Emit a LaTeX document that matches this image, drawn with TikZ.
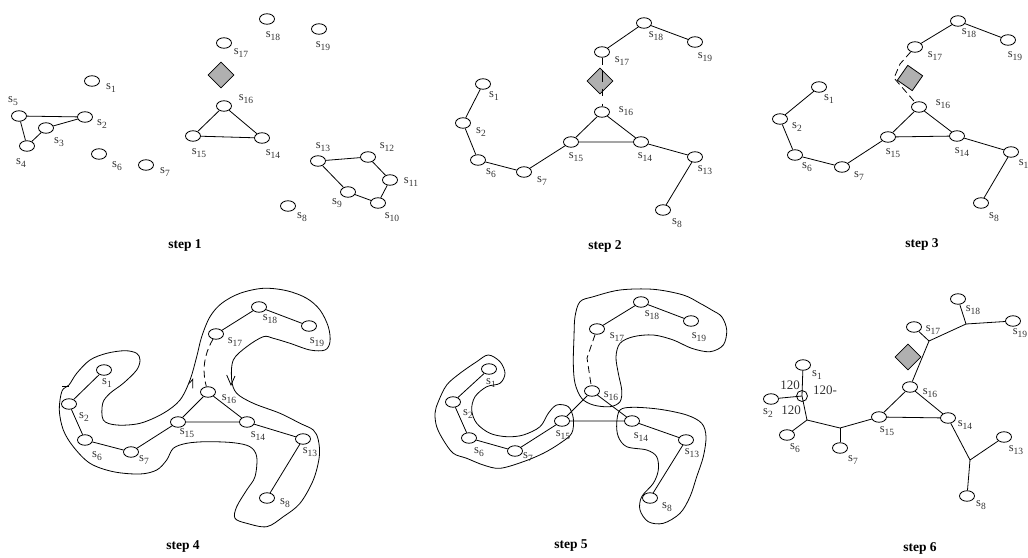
\documentclass[tikz,border=0pt]{standalone}
\usepackage{fontspec}
\setmainfont{Liberation Serif}
\usetikzlibrary{shapes.geometric}
\definecolor{diagray}{RGB}{176,176,176}
\tikzset{
 sn/.style={draw, ellipse, minimum width=15pt, minimum height=10.5pt, inner sep=0pt, line width=0.8pt},
 snsmall/.style={draw, ellipse, minimum width=11pt, minimum height=11pt, inner sep=0pt, line width=0.8pt},
 sl/.style={inner sep=0pt, font=\fontsize{12.5}{13}\selectfont, text=black!80},
 dia/.style={draw, diamond, fill=diagray, minimum width=26pt, minimum height=26pt, inner sep=0pt, line width=0.8pt},
 edge/.style={line width=0.8pt},
 dedge/.style={line width=0.8pt, dash pattern=on 7pt off 4pt},
 steplab/.style={font=\fontsize{13.5}{15}\selectfont\bfseries, inner sep=0pt},
 blob/.style={line width=0.8pt},
 ang/.style={font=\fontsize{13}{14}\selectfont, inner sep=0pt, text=black!80}
}
\newcommand\mkS[6]{\node[sn] (#1) at (#2,#3) {}; \node[sl] (#1l) at (#5,#6) {s\raisebox{-2.6pt}{\fontsize{9.5}{10}\selectfont #4}};}
\begin{document}
\begin{tikzpicture}[x=1pt,y=-1pt]
\useasboundingbox (0,0) rectangle (1028,557);
% ---------------- step 1
\node[dia] (ad) at (221,75) {};
\mkS{a1}{92}{81}{1}{111}{88}
\mkS{a2}{85}{117}{2}{102}{124}
\mkS{a3}{46}{128}{3}{59}{142}
\mkS{a4}{27}{146}{4}{21}{163}
\mkS{a5}{19}{116}{5}{13}{101}
\mkS{a6}{99}{154}{6}{117}{166}
\mkS{a7}{146}{165}{7}{165}{172}
\mkS{a8}{288}{206}{8}{302}{217}
\mkS{a9}{348}{192}{9}{337}{203}
\mkS{a10}{378}{203}{10}{392}{217}
\mkS{a11}{390}{180}{11}{411}{182}
\mkS{a12}{368}{157}{12}{387}{147}
\mkS{a13}{318}{161}{13}{323}{147}
\mkS{a14}{262}{138}{14}{273}{154}
\mkS{a15}{193}{136}{15}{199}{153}
\mkS{a16}{224}{106}{16}{246}{99}
\mkS{a17}{224}{43}{17}{241}{53}
\mkS{a18}{267}{19}{18}{273}{36}
\mkS{a19}{319}{29}{19}{323}{46}
\draw[edge] (a4) -- (a5) -- (a2) -- (a3) -- (a4);
\draw[edge] (a15) -- (a16) -- (a14) -- (a15);
\draw[edge] (a13) -- (a12) -- (a11) -- (a10) -- (a9) -- (a13);
\node[steplab] (st1) at (185,245) {step 1};
% ---------------- step 2
\node[dia] (bd) at (600,81) {};
\mkS{b1}{483}{84}{1}{494}{96}
\mkS{b2}{463}{123}{2}{481}{132}
\mkS{b6}{478}{160}{6}{491}{173}
\mkS{b7}{524}{172}{7}{542}{181}
\mkS{b8}{663}{210}{8}{677}{223}
\mkS{b13}{695}{157}{13}{705}{170}
\mkS{b14}{641}{142}{14}{645}{157}
\mkS{b15}{571}{142}{15}{576}{157}
\mkS{b16}{602}{112}{16}{626}{111}
\mkS{b17}{602}{52}{17}{622}{61}
\mkS{b18}{644}{23}{18}{656}{36}
\mkS{b19}{695}{42}{19}{705}{57}
\draw[edge] (b1) -- (b2) -- (b6) -- (b7) -- (b15) -- (b16) -- (b14) -- (b15);
\draw[edge] (b14) -- (b13) -- (b8);
\draw[edge] (b17) -- (b18) -- (b19);
\draw[line width=0.8pt, dash pattern=on 7pt off 5pt on 12pt off 7pt on 7pt off 8pt] (b17) -- (b16);
\node[steplab] (st2) at (605,246) {step 2};
% ---------------- step 3
\coordinate (cw1) at (900,64);
\coordinate (cw2) at (894,78);
\coordinate (cw3) at (907,93);
\mkS{c16}{919}{107}{16}{943}{104}
\mkS{c17}{915}{47}{17}{935}{56}
\draw[dedge] (c17) -- (cw1) -- (cw2) -- (cw3) -- (c16);
\node[dia, rotate=10] (cd) at (910,78) {};
\mkS{c1}{819}{87}{1}{829}{99}
\mkS{c2}{780}{119}{2}{797}{127}
\mkS{c6}{795}{155}{6}{807}{167}
\mkS{c7}{842}{167}{7}{859}{176}
\mkS{c8}{981}{203}{8}{994}{217}
\mkS{c13}{1011}{152}{13}{1026}{164}
\mkS{c14}{957}{136}{14}{962}{152}
\mkS{c15}{888}{137}{15}{893}{153}
\mkS{c18}{958}{21}{18}{969}{33}
\mkS{c19}{1008}{40}{19}{1015}{56}
\draw[edge] (c1) -- (c2) -- (c6) -- (c7) -- (c15) -- (c16) -- (c14) -- (c15);
\draw[edge] (c14) -- (c13) -- (c8);
\draw[edge] (c17) -- (c18) -- (c19);
\node[steplab] (st3) at (922,244) {step 3};
% ---------------- step 4
\mkS{d1}{104}{370}{1}{107}{383}
\mkS{d2}{69}{404}{2}{84}{417}
\mkS{d6}{85}{440}{6}{97}{456}
\mkS{d7}{131}{452}{7}{144}{460}
\mkS{d8}{267}{498}{8}{285}{503}
\mkS{d13}{303}{439}{13}{310}{452}
\mkS{d14}{247}{422}{14}{258}{436}
\mkS{d15}{178}{422}{15}{187}{433}
\mkS{d16}{208}{392}{16}{229}{399}
\mkS{d17}{216}{334}{17}{235}{342}
\mkS{d18}{259}{307}{18}{270}{319}
\mkS{d19}{309}{326}{19}{317}{342}
\draw[edge] (d1) -- (d2) -- (d6) -- (d7) -- (d15) -- (d16) -- (d14) -- (d15);
\draw[edge] (d14) -- (d13) -- (d8);
\draw[edge] (d17) -- (d18) -- (d19);
\draw[dedge] (d17) .. controls (202,358) and (203,375) .. (d16);
\draw[blob] plot[smooth cycle, tension=0.55] coordinates {
(69,385) (62,391) (59.3,410) (63.3,430) (73.3,446.7) (90,463.3) (113.3,471.7)
(140,474) (156.7,470) (166.7,460) (173.3,448.3) (186.7,443.3) (206.7,441.7)
(233.3,442.7) (250,446.7) (256.7,456.7) (255,476.7) (246.7,490) (236.7,506.7)
(235,518.3) (246.7,523.3) (266.7,526.7) (283.3,516.7) (300,503.3) (313.3,480)
(319.3,456.7) (318.3,440) (313.3,430) (300,423.3) (280,413.3) (253.3,403.3)
(236.7,393.3) (231.7,380) (233.3,360) (246.7,346.7) (263.3,336.7) (273.3,338.3)
(290,343.3) (310,350) (325,350) (330,341.7) (328.3,326.7) (320,310) (306.7,298.3)
(286.7,290.7) (263.3,288.3) (240,293.3) (221.7,303.3) (210,316.7) (201.7,336.7)
(196.7,356.7) (190,380) (180,400) (163.3,413.3) (140,423.3) (116.7,425)
(103.3,420) (102.7,403.3) (110,393.3) (123.3,383.3) (136.7,370) (140,360)
(136.7,353.3) (125,350.7) (106.7,353.3) (90,360) (76.7,373.3)};
\coordinate (dt1) at (62,386.7);
\coordinate (dt2) at (69,386.7);
\draw[edge] (dt1) -- (dt2);
\coordinate (du1) at (189.3,383.3);
\coordinate (du2) at (192.7,379.3);
\coordinate (du3) at (192.7,388.3);
\draw[edge] (du1) -- (du2) -- (du3);
\coordinate (dv1) at (226.7,375);
\coordinate (dv2) at (231,385);
\coordinate (dv3) at (235,376);
\draw[edge] (dv1) -- (dv2) -- (dv3);
\node[steplab] (st4) at (183,546) {step 4};
% ---------------- step 5
\mkS{e1}{489}{369}{1}{491}{383}
\mkS{e2}{453}{402}{2}{468}{414}
\mkS{e6}{469}{438}{6}{479}{452}
\mkS{e7}{515}{451}{7}{528}{457}
\mkS{e8}{650}{498}{8}{667}{507}
\mkS{e13}{686}{440}{13}{692}{453}
\mkS{e14}{632}{421}{14}{641}{437}
\mkS{e15}{562}{421}{15}{563}{435}
\mkS{e16}{592}{391}{16}{611}{396}
\mkS{e17}{597}{329}{17}{617}{337}
\mkS{e18}{641}{302}{18}{652}{315}
\mkS{e19}{691}{321}{19}{699}{337}
\draw[edge] (e1) -- (e2) -- (e6) -- (e7) -- (e15) -- (e16) -- (e14) -- (e15);
\draw[edge] (e14) -- (e13) -- (e8);
\draw[edge] (e17) -- (e18) -- (e19);
\coordinate (ek) at (587,358);
\draw[dedge] (e17) -- (ek) -- (e16);
\draw[blob] plot[smooth cycle, tension=0.55] coordinates {
(488.3,355) (500,361.7) (505,373.3) (500,383.3) (486.7,386.7) (475,396.7)
(471.7,410) (476.7,423.3) (490,433.3) (506.7,436.7) (523.3,435) (540,426.7)
(548.3,413.3) (556.7,405) (568.3,406.7) (573.3,418.3) (571.7,433.3) (560,443.3)
(543.3,453.3) (523.3,461.7) (500,468.3) (483.3,465) (466.7,458.3) (453.3,453.3)
(443.3,440) (436.7,426.7) (435,413.3) (438.3,401.7) (446.7,385) (460,373.3)
(476.7,361.7)};
\draw[blob] plot[smooth cycle, tension=0.55] coordinates {
(593.3,296.7) (580,301.7) (575,316.7) (574,336.7) (573.3,363.3) (575,383.3)
(581.7,398.3) (593.3,405) (610,406.7) (620,401.7) (621.7,390) (618.3,373.3)
(616,356.7) (620,343.3) (633.3,336.7) (653.3,335) (673.3,340) (691.7,348.3)
(710,351.7) (723.3,345) (726.7,330) (721.7,316.7) (711.7,310) (700,303.3)
(683.3,295) (653.3,289.3) (620,290)};
\draw[blob] plot[smooth cycle, tension=0.55] coordinates {
(620,410) (633.3,407.3) (660,409.3) (686.7,415) (701.7,423.3) (706,436.7)
(703.3,456.7) (696.7,476.7) (690,496.7) (680,513.3) (663.3,523.3) (648.3,521.7)
(640,510) (641.7,496.7) (653.3,483.3) (658.3,470) (656.7,456.7) (646.7,450)
(626.7,446.7) (618.3,436.7) (616.7,423.3)};
\node[steplab] (st5) at (571,546) {step 5};
% ---------------- step 6
\node[dia] (fd) at (908,357) {};
\mkS{f1}{803}{365}{1}{817}{375}
\mkS{f2}{771}{399}{2}{768}{413}
\node[snsmall] (fc) at (802,396) {};
\mkS{f6}{787}{435}{6}{795}{448}
\mkS{f7}{840}{448}{7}{853}{460}
\mkS{f8}{967}{496}{8}{981}{505}
\mkS{f13}{1004}{437}{13}{1016}{450}
\mkS{f14}{948}{418}{14}{965}{425}
\mkS{f15}{879}{417}{15}{887}{431}
\mkS{f16}{910}{387}{16}{930}{393}
\mkS{f17}{914}{327}{17}{933}{330}
\mkS{f18}{958}{299}{18}{973}{310}
\mkS{f19}{1013}{321}{19}{1020}{333}
\coordinate (J1) at (807,420);
\coordinate (J2) at (840,428);
\coordinate (J3) at (970,460);
\coordinate (J4) at (929,341);
\coordinate (J5) at (966,324);
\draw[edge] (f1) -- (fc.center) -- (J1);
\draw[edge] (f2) -- (fc.center);
\draw[edge] (f6) -- (J1) -- (J2) -- (f15);
\draw[edge] (J2) -- (f7);
\draw[edge] (f15) -- (f16) -- (f14) -- (f15);
\draw[edge] (f14) -- (J3) -- (f13);
\draw[edge] (J3) -- (f8);
\draw[edge] (f16) -- (J4) -- (f17);
\draw[edge] (J4) -- (J5) -- (f18);
\draw[edge] (J5) -- (f19);
\node[ang] (g1) at (790,385) {120};
\node[ang] (g2) at (825,390) {120-};
\node[ang] (g3) at (791,410) {120};
\node[steplab] (st6) at (920,548) {step 6};
\end{tikzpicture}
\end{document}
